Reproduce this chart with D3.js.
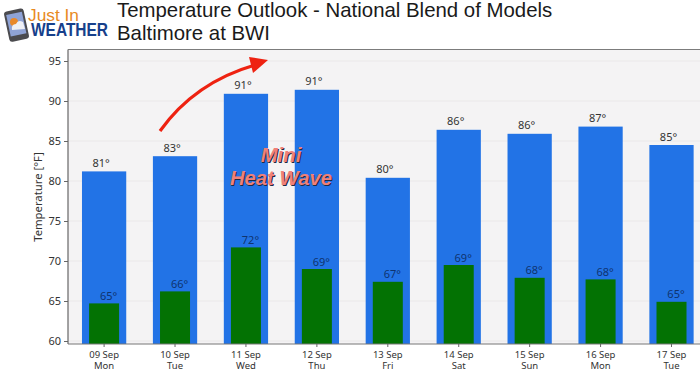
<!DOCTYPE html>
<html>
<head>
<meta charset="utf-8">
<script src="https://cdn.jsdelivr.net/npm/d3@7"></script>
<style>
  html, body { margin: 0; padding: 0; background: #fff; }
  svg { display: block; }
</style>
</head>
<body>
<div id="chart"></div>
<script>
const days = ["09 Sep", "10 Sep", "11 Sep", "12 Sep", "13 Sep", "14 Sep", "15 Sep", "16 Sep", "17 Sep"];
const weekdays = ["Mon", "Tue", "Wed", "Thu", "Fri", "Sat", "Sun", "Mon", "Tue"];
const highs = [81.2, 83.1, 90.9, 91.4, 80.4, 86.4, 85.9, 86.8, 84.5];
const lows = [64.7, 66.2, 71.7, 69.0, 67.4, 69.5, 67.9, 67.7, 64.9];
const highLabels = ["81°", "83°", "91°", "91°", "80°", "86°", "86°", "87°", "85°"];
const lowLabels = ["65°", "66°", "72°", "69°", "67°", "69°", "68°", "68°", "65°"];
const yTicks = [60, 65, 70, 75, 80, 85, 90, 95];

const width = 700, height = 376;
const margin = {top: 49.5, right: 0, bottom: 32, left: 68};
const tickFont = "'Noto Sans', 'Open Sans', sans-serif";

const svg = d3.select("#chart").append("svg")
    .attr("width", width)
    .attr("height", height);

// plot area background
svg.append("rect")
    .attr("x", margin.left)
    .attr("y", margin.top)
    .attr("width", width - margin.left)
    .attr("height", height - margin.bottom - margin.top)
    .attr("fill", "#f4f3f4");

const scaleX = d3.scaleBand()
    .domain(days)
    .range([68, 707.6])
    .paddingInner(0.376)
    .paddingOuter(0.197);

const scaleY = d3.scaleLinear()
    .domain([60, 95])
    .range([341, 61]);

// grid
svg.append("g").selectAll("line")
    .data(yTicks)
    .join("line")
    .attr("x1", margin.left)
    .attr("x2", width)
    .attr("y1", d => scaleY(d))
    .attr("y2", d => scaleY(d))
    .attr("stroke", "#eae8e9")
    .attr("stroke-width", 1);

// high bars
svg.append("g").selectAll("rect")
    .data(highs)
    .join("rect")
    .attr("x", (d, i) => scaleX(days[i]))
    .attr("y", d => scaleY(d))
    .attr("width", scaleX.bandwidth())
    .attr("height", d => height - margin.bottom - scaleY(d))
    .attr("fill", "#2273e6");

// low bars, a bit narrower and in the middle of the blue one
const lowWidth = 30;
svg.append("g").selectAll("rect")
    .data(lows)
    .join("rect")
    .attr("x", (d, i) => scaleX(days[i]) + (scaleX.bandwidth() - lowWidth) / 2)
    .attr("y", d => scaleY(d))
    .attr("width", lowWidth)
    .attr("height", d => height - margin.bottom - scaleY(d))
    .attr("fill", "#037203");

// value labels
svg.append("g").selectAll("text")
    .data(highs)
    .join("text")
    .attr("x", (d, i) => scaleX(days[i]) + scaleX.bandwidth() / 2 - 3)
    .attr("y", d => scaleY(d) - 4.5)
    .attr("text-anchor", "middle")
    .attr("font-family", tickFont)
    .attr("font-size", 11)
    .attr("fill", "#333")
    .text((d, i) => highLabels[i]);

svg.append("g").selectAll("text")
    .data(lows)
    .join("text")
    .attr("x", (d, i) => scaleX(days[i]) + scaleX.bandwidth() / 2 + 4.5)
    .attr("y", d => scaleY(d) - 3.5)
    .attr("text-anchor", "middle")
    .attr("font-family", tickFont)
    .attr("font-size", 11)
    .attr("fill", "#0f3470")
    .text((d, i) => lowLabels[i]);

// axes
const yAxis = svg.append("g")
    .attr("transform", `translate(${margin.left},0)`)
    .call(d3.axisLeft(scaleY).tickValues(yTicks).tickSize(4).tickPadding(3));

const xAxis = svg.append("g")
    .attr("transform", `translate(0,${height - margin.bottom})`)
    .call(d3.axisBottom(scaleX).tickSize(3).tickFormat(""));

yAxis.select(".domain").attr("d", `M0,${margin.top}V${height - margin.bottom}`).attr("stroke", "#666").attr("stroke-width", 1.2);
xAxis.select(".domain").attr("d", `M${margin.left},0H${width}`).attr("stroke", "#777").attr("stroke-width", 1.2);
svg.selectAll(".tick line").attr("stroke", "#666");
yAxis.selectAll("text")
    .attr("font-family", tickFont)
    .attr("font-size", 11)
    .attr("fill", "#333");

xAxis.selectAll(".tick").each(function(d, i) {
    const label = d3.select(this).select("text")
        .text(null)
        .attr("y", 0)
        .attr("dy", null)
        .attr("font-family", tickFont)
        .attr("font-size", 9.5)
        .attr("fill", "#333");
    label.append("tspan").attr("x", 0).attr("y", 14).text(d);
    label.append("tspan").attr("x", 0).attr("y", 25).text(weekdays[i]);
});

// top frame line
svg.append("line")
    .attr("x1", margin.left)
    .attr("x2", width)
    .attr("y1", margin.top)
    .attr("y2", margin.top)
    .attr("stroke", "#7c7c7c")
    .attr("stroke-width", 1.2);

svg.append("text")
    .attr("transform", "translate(42,197) rotate(-90)")
    .attr("text-anchor", "middle")
    .attr("font-family", tickFont)
    .attr("font-size", 11.3)
    .attr("fill", "#333")
    .text("Temperature [°F]");

// title
const title = svg.append("g")
    .attr("font-family", "'Liberation Sans', Arial, sans-serif")
    .attr("font-size", 20.4)
    .attr("fill", "#1a1a1a");
title.append("text").attr("x", 117).attr("y", 17).text("Temperature Outlook - National Blend of Models");
title.append("text").attr("x", 117).attr("y", 40).text("Baltimore at BWI");

// logo
const logo = svg.append("g");
logo.append("rect")
    .attr("x", 6.5).attr("y", 9.5)
    .attr("width", 20).attr("height", 31)
    .attr("rx", 3)
    .attr("transform", "rotate(-12 17 25)")
    .attr("fill", "#4b4b4f");
logo.append("rect")
    .attr("x", 8.5).attr("y", 13)
    .attr("width", 16).attr("height", 22)
    .attr("transform", "rotate(-12 17 25)")
    .attr("fill", "#8fa3d6");
logo.append("circle").attr("cx", 14).attr("cy", 22).attr("r", 4).attr("fill", "#e8892b");
logo.append("path")
    .attr("d", "M12,30 Q11,24 16,24 Q18,19 23,22 L25,29 Z")
    .attr("fill", "#eef0f6");
logo.append("text")
    .attr("x", 28).attr("y", 20.5)
    .attr("font-family", "'Liberation Sans', Arial, sans-serif")
    .attr("font-size", 17)
    .attr("textLength", 51)
    .attr("lengthAdjust", "spacingAndGlyphs")
    .attr("fill", "#e88a1f")
    .text("Just In");
logo.append("text")
    .attr("x", 31).attr("y", 35.5)
    .attr("font-family", "'Liberation Sans', Arial, sans-serif")
    .attr("font-size", 17.5)
    .attr("font-weight", "bold")
    .attr("textLength", 77)
    .attr("lengthAdjust", "spacingAndGlyphs")
    .attr("fill", "#17408b")
    .text("WEATHER");

// the red arrow
svg.append("path")
    .attr("d", "M160,131 C180,103 210,78 255,65")
    .attr("fill", "none")
    .attr("stroke", "#ee2211")
    .attr("stroke-width", 3.2);
svg.append("path")
    .attr("d", "M249,57 L268,60 L253,73 Z")
    .attr("fill", "#ee2211");

// annotation
const note = svg.append("g")
    .attr("font-family", "'Liberation Sans', Arial, sans-serif")
    .attr("font-size", 20.3)
    .attr("font-weight", "bold")
    .attr("font-style", "italic")
    .attr("text-anchor", "middle");
[["Mini", 281, 162], ["Heat Wave", 281, 185]].forEach(([t, x, y]) => {
    note.append("text").attr("x", x + 1).attr("y", y + 1)
        .attr("fill", "#1c2a44").text(t);
    note.append("text").attr("x", x).attr("y", y)
        .attr("fill", "#f08078").text(t);
});
</script>
</body>
</html>
